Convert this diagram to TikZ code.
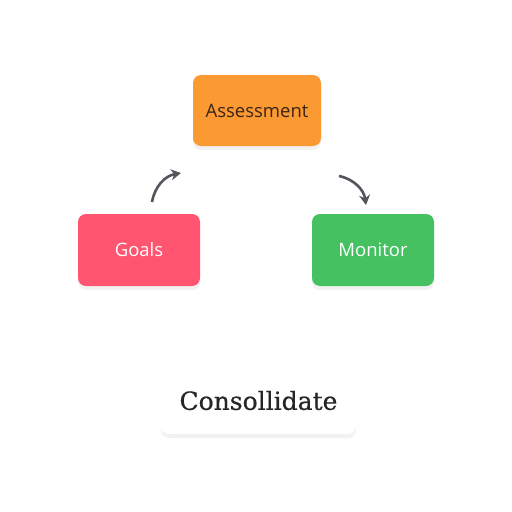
\documentclass[tikz,border=0pt]{standalone}
\usepackage{fontspec}
\setmainfont{DejaVu Serif}
\setsansfont{Open Sans}
\usetikzlibrary{shadows,arrows.meta}
\definecolor{cOrange}{HTML}{FB9A32}
\definecolor{cPink}{HTML}{FF5570}
\definecolor{cGreen}{HTML}{45C162}
\definecolor{cArrow}{HTML}{52565C}
\definecolor{cText}{HTML}{3A2415}
\begin{document}
\begin{tikzpicture}[x=1pt,y=-1pt,
  card/.style={rounded corners=8pt, inner sep=0pt, font=\sffamily\fontsize{18.5}{22}\selectfont,
    drop shadow={opacity=0.10, shadow xshift=0pt, shadow yshift=-4pt}},
  flow/.style={draw=cArrow, line width=2.6pt, -{Stealth[length=10pt,width=11pt]}}]
\useasboundingbox[fill=white] (0,0) rectangle (512,512);
\node[card, fill=cOrange, text=cText, minimum width=128pt, minimum height=71pt] (assess) at (257,110.5) {Assessment};
\node[card, fill=cPink, text=white, minimum width=122pt, minimum height=72pt] (goals) at (139,250) {Goals};
\node[card, fill=cGreen, text=white, minimum width=122pt, minimum height=72pt] (monitor) at (373,250) {Monitor};
\node[card, fill=white, text=black!85, minimum width=195pt, minimum height=67pt, font=\fontsize{25}{29}\selectfont\addfontfeature{FakeBold=0.6}] (consol) at (258.5,400.5) {Consollidate};
\coordinate (a1s) at (152,202);
\coordinate (a1e) at (181,173);
\coordinate (a2s) at (339,176);
\coordinate (a2e) at (366,205);
\draw[flow] (a1s) to[bend left=35] (a1e);
\draw[flow] (a2s) to[bend left=35] (a2e);
\end{tikzpicture}
\end{document}
